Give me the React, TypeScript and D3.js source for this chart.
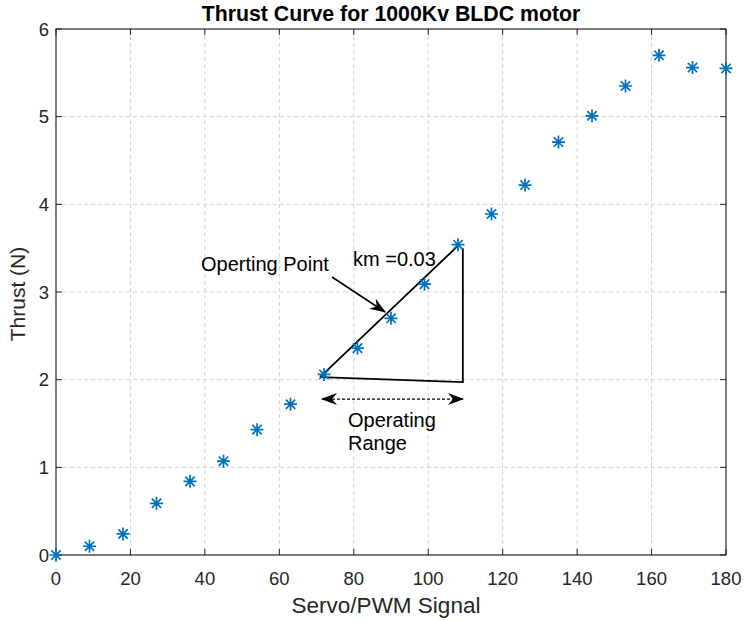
import React, { useEffect, useRef } from 'react';
import * as d3 from 'd3';

// datos
const pwm = [0, 9, 18, 27, 36, 45, 54, 63, 72, 81, 90, 99, 108, 117, 126, 135, 144, 153, 162, 171, 180];
const thrust = [0, 0.1, 0.24, 0.59, 0.84, 1.07, 1.43, 1.72, 2.06, 2.36, 2.7, 3.09, 3.54, 3.89, 4.22, 4.71, 5.01, 5.35, 5.7, 5.56, 5.55];
const xTicks = [0, 20, 40, 60, 80, 100, 120, 140, 160, 180];
const yTicks = [0, 1, 2, 3, 4, 5, 6];

const W = 744;
const H = 621;
const FONT = "'Liberation Sans', Arial, sans-serif";

const App = () => {
  const svgRef = useRef<SVGSVGElement | null>(null);

  useEffect(() => {
    if (!svgRef.current) return;
    const root = d3.select(svgRef.current);
    root.selectAll('*').remove();

    const left = 56, right = 726, top = 29, bottom = 555;
    const x = d3.scaleLinear().domain([0, 180]).range([left, right]);
    const y = d3.scaleLinear().domain([0, 6]).range([bottom, top]);

    const defs = root.append('defs');
    defs.append('marker')
      .attr('id', 'head')
      .attr('viewBox', '0 0 16 12')
      .attr('refX', 15).attr('refY', 6)
      .attr('markerWidth', 16).attr('markerHeight', 12)
      .attr('markerUnits', 'userSpaceOnUse')
      .attr('orient', 'auto-start-reverse')
      .append('path')
      .attr('d', 'M0,0 L16,6 L0,12 L5,6 Z')
      .attr('fill', '#000');

    const svg = root.append('g');

    // fondo
    svg.append('rect').attr('width', W).attr('height', H).attr('fill', '#fff');

    // rejilla
    svg.append('g').selectAll('line').data(xTicks.slice(1, -1)).join('line')
      .attr('x1', d => x(d)).attr('x2', d => x(d))
      .attr('y1', top).attr('y2', bottom)
      .attr('stroke', '#d2d2d2').attr('stroke-width', 1).attr('stroke-dasharray', '4,3');
    svg.append('g').selectAll('line').data(yTicks.slice(1, -1)).join('line')
      .attr('x1', left).attr('x2', right)
      .attr('y1', d => y(d)).attr('y2', d => y(d))
      .attr('stroke', '#d2d2d2').attr('stroke-width', 1).attr('stroke-dasharray', '4,3');

    // marco y marcas
    svg.append('rect')
      .attr('x', left).attr('y', top).attr('width', right - left).attr('height', bottom - top)
      .attr('fill', 'none').attr('stroke', '#262626').attr('stroke-width', 1.2);

    const tk = svg.append('g').attr('stroke', '#262626').attr('stroke-width', 1);
    xTicks.forEach(t => {
      tk.append('line').attr('x1', x(t)).attr('x2', x(t)).attr('y1', bottom).attr('y2', bottom - 6);
      tk.append('line').attr('x1', x(t)).attr('x2', x(t)).attr('y1', top).attr('y2', top + 6);
    });
    yTicks.forEach(t => {
      tk.append('line').attr('x1', left).attr('x2', left + 6).attr('y1', y(t)).attr('y2', y(t));
      tk.append('line').attr('x1', right).attr('x2', right - 6).attr('y1', y(t)).attr('y2', y(t));
    });

    // etiquetas de ejes
    svg.append('g').selectAll('text').data(xTicks).join('text')
      .attr('x', d => x(d)).attr('y', bottom + 30)
      .attr('text-anchor', 'middle')
      .attr('font-family', FONT).attr('font-size', 18.5).attr('fill', '#262626')
      .text(d => d);
    svg.append('g').selectAll('text').data(yTicks).join('text')
      .attr('x', left - 7).attr('y', d => y(d) + 6.5)
      .attr('text-anchor', 'end')
      .attr('font-family', FONT).attr('font-size', 18.5).attr('fill', '#262626')
      .text(d => d);

    svg.append('text')
      .attr('x', 386).attr('y', 613)
      .attr('text-anchor', 'middle')
      .attr('font-family', FONT).attr('font-size', 22.5).attr('fill', '#262626')
      .text('Servo/PWM Signal');
    svg.append('text')
      .attr('transform', `translate(25,294) rotate(-90)`)
      .attr('text-anchor', 'middle')
      .attr('font-family', FONT).attr('font-size', 21).attr('fill', '#262626')
      .text('Thrust (N)');
    svg.append('text')
      .attr('x', (left + right) / 2).attr('y', 21)
      .attr('text-anchor', 'middle')
      .attr('font-family', FONT).attr('font-size', 21.3).attr('font-weight', 'bold').attr('fill', '#000')
      .text('Thrust Curve for 1000Kv BLDC motor');

    // anotaciones: triangulo
    svg.append('path')
      .attr('d', `M${x(70.93)},${y(2.03)} L${x(108.3)},${y(3.54)} M${x(109.3)},${y(3.5)} L${x(109.3)},${y(1.973)} L${x(70.93)},${y(2.03)}`)
      .attr('fill', 'none').attr('stroke', '#000').attr('stroke-width', 1.8);

    // flecha del punto de operacion
    svg.append('line')
      .attr('x1', x(74.15)).attr('y1', y(3.171))
      .attr('x2', x(88.39)).attr('y2', y(2.772))
      .attr('stroke', '#000').attr('stroke-width', 1.6)
      .attr('marker-end', 'url(#head)');

    // rango de operacion
    svg.append('line')
      .attr('x1', x(71.46)).attr('y1', y(1.779))
      .attr('x2', x(109.34)).attr('y2', y(1.779))
      .attr('stroke', '#000').attr('stroke-width', 1.2).attr('stroke-dasharray', '3,2')
      .attr('marker-start', 'url(#head)').attr('marker-end', 'url(#head)');

    const ann = svg.append('g').attr('font-family', FONT).attr('font-size', 20).attr('fill', '#000');
    ann.append('text').attr('x', x(38.96)).attr('y', y(3.24)).text('Operting Point');
    ann.append('text').attr('x', x(79.79)).attr('y', y(3.297)).text('km =0.03');
    ann.append('text').attr('x', x(78.45)).attr('y', y(1.46)).text('Operating');
    ann.append('text').attr('x', x(78.45)).attr('y', y(1.2)).text('Range');

    // puntos
    const r = 6.5;
    const star = `M${-r},0L${r},0M0,${-r}L0,${r}M${-r * 0.72},${-r * 0.72}L${r * 0.72},${r * 0.72}M${-r * 0.72},${r * 0.72}L${r * 0.72},${-r * 0.72}`;
    svg.append('g').selectAll('path').data(pwm).join('path')
      .attr('transform', (d, i) => `translate(${x(d)},${y(thrust[i])})`)
      .attr('d', star)
      .attr('stroke', '#0072BD').attr('stroke-width', 1.7).attr('fill', 'none');
  }, []);

  return (
    <svg ref={svgRef} width={W} height={H}
      style={{ position: 'absolute', left: 0, top: 0, display: 'block' }} />
  );
};

export default App;
